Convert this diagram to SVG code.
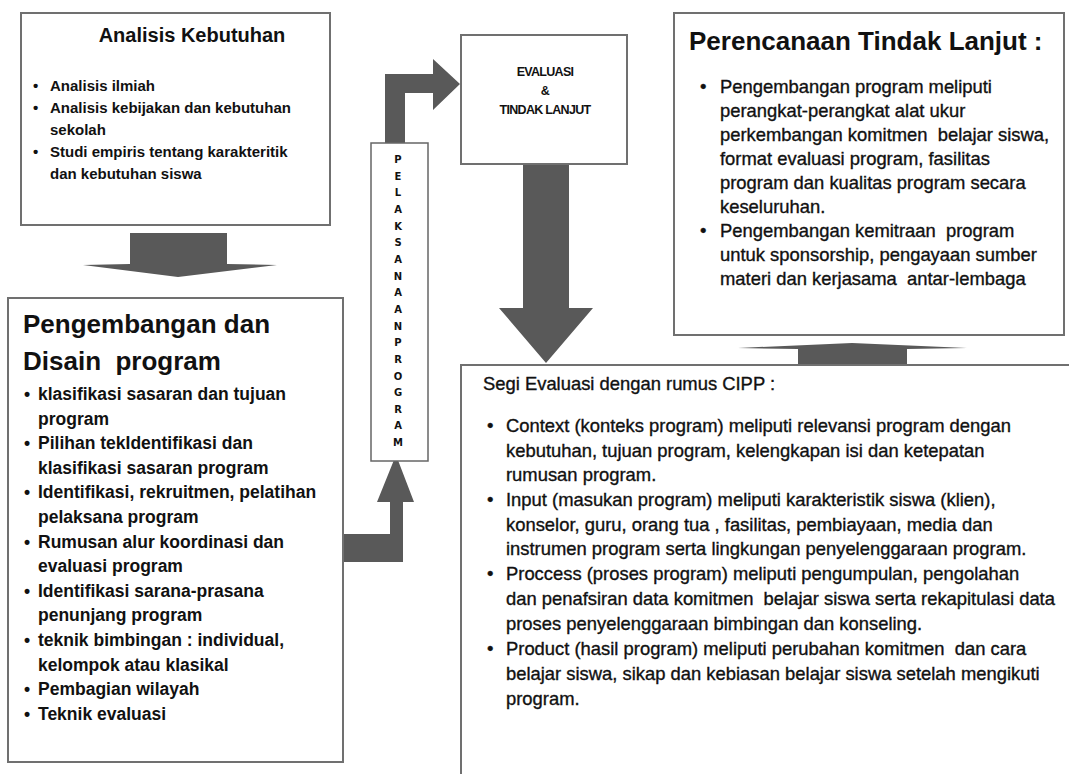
<svg xmlns="http://www.w3.org/2000/svg" width="1069" height="774" viewBox="0 0 1069 774">
<style>
.box{fill:#fff;stroke:#707070;stroke-width:2}
.arrow{fill:#595959}
.t{font-family:"Liberation Sans",Arial,sans-serif;fill:#111}
.b1{font-size:15px;font-weight:bold}
.b2{font-size:17.5px;font-weight:bold}
.r{font-size:18.4px;stroke:#111;stroke-width:0.35px}
.h{font-size:26px;font-weight:bold}
.v{font-family:"DejaVu Sans",sans-serif;font-size:10px;font-weight:bold;text-anchor:middle}
.e{font-size:12.5px;font-weight:bold;text-anchor:middle;letter-spacing:-0.7px}
</style>
<rect width="1069" height="774" fill="#fff"/>
<g id="connectors">
<polygon class="arrow" points="130,233 227,233 227,264 277,265 178,277 83,265 130,264"/>
<polygon class="arrow" points="343,534 390,534 390,502 377,502 396,455 414,502 403,502 403,562 343,562"/>
<polygon class="arrow" points="385,143 385,74 433,74 433,59 460,84 433,110 433,93 405,93 405,143"/>
<polygon class="arrow" points="523,164 569,164 569,308 593,308 546,363 499,308 523,308"/>
<polygon class="arrow" points="798,365 907,365 907,349 967,348 852,343 738,348 798,349"/>
</g>
<g id="analisis">
<rect class="box" x="21" y="13" width="309" height="212"/>
<text class="t" x="192" y="42" font-size="20" font-weight="bold" text-anchor="middle">Analisis Kebutuhan</text>
<g class="t b1">
<text x="33" y="90.5">•</text><text x="50" y="90.5">Analisis ilmiah</text>
<text x="33" y="112.5">•</text><text x="50" y="112.5">Analisis kebijakan dan kebutuhan</text>
<text x="50" y="134.5">sekolah</text>
<text x="33" y="156.5">•</text><text x="50" y="156.5">Studi empiris tentang karakteritik</text>
<text x="50" y="178.5">dan kebutuhan siswa</text>
</g>
</g>
<g id="pengembangan">
<rect class="box" x="8" y="298" width="335" height="464"/>
<text class="t h" x="23" y="333">Pengembangan dan</text>
<text class="t h" x="23" y="370" xml:space="preserve">Disain  program</text>
<g class="t b2">
<text x="24" y="400">•</text><text x="38" y="400">klasifikasi sasaran dan tujuan</text>
<text x="38" y="424.6">program</text>
<text x="24" y="449.2">•</text><text x="38" y="449.2">Pilihan tekIdentifikasi dan</text>
<text x="38" y="473.8">klasifikasi sasaran program</text>
<text x="24" y="498.4">•</text><text x="38" y="498.4">Identifikasi, rekruitmen, pelatihan</text>
<text x="38" y="523">pelaksana program</text>
<text x="24" y="547.6">•</text><text x="38" y="547.6">Rumusan alur koordinasi dan</text>
<text x="38" y="572.2">evaluasi program</text>
<text x="24" y="596.8">•</text><text x="38" y="596.8">Identifikasi sarana-prasana</text>
<text x="38" y="621.4">penunjang program</text>
<text x="24" y="646">•</text><text x="38" y="646">teknik bimbingan : individual,</text>
<text x="38" y="670.6">kelompok atau klasikal</text>
<text x="24" y="695.2">•</text><text x="38" y="695.2">Pembagian wilayah</text>
<text x="24" y="719.8">•</text><text x="38" y="719.8">Teknik evaluasi</text>
</g>
</g>
<g id="pelaksanaan">
<rect x="371" y="143" width="57" height="318" fill="#fff" stroke="#666" stroke-width="1.5"/>
<g class="t v">
<text x="398" y="163">P</text><text x="398" y="179.7">E</text><text x="398" y="196.3">L</text><text x="398" y="213">A</text><text x="398" y="229.6">K</text><text x="398" y="246.3">S</text><text x="398" y="262.9">A</text><text x="398" y="279.6">N</text><text x="398" y="296.2">A</text><text x="398" y="312.9">A</text><text x="398" y="329.5">N</text><text x="398" y="346.2">P</text><text x="398" y="362.8">R</text><text x="398" y="379.5">O</text><text x="398" y="396.1">G</text><text x="398" y="412.8">R</text><text x="398" y="429.4">A</text><text x="398" y="446">M</text>
</g>
</g>
<g id="evaluasi">
<rect class="box" x="461" y="35" width="166" height="129"/>
<text class="t e" x="545" y="76">EVALUASI</text>
<text class="t e" x="545" y="95">&amp;</text>
<text class="t e" x="545" y="114">TINDAK LANJUT</text>
</g>
<g id="perencanaan">
<rect class="box" x="674" y="13" width="390" height="322"/>
<text class="t h" x="689" y="50">Perencanaan Tindak Lanjut :</text>
<g class="t r">
<text x="700" y="93">•</text><text x="720" y="93">Pengembangan program meliputi</text>
<text x="720" y="117">perangkat-perangkat alat ukur</text>
<text x="720" y="141" xml:space="preserve">perkembangan komitmen  belajar siswa,</text>
<text x="720" y="164.5">format evaluasi program, fasilitas</text>
<text x="720" y="188.5">program dan kualitas program secara</text>
<text x="720" y="212.5">keseluruhan.</text>
<text x="700" y="237">•</text><text x="720" y="237" xml:space="preserve">Pengembangan kemitraan  program</text>
<text x="720" y="261">untuk sponsorship, pengayaan sumber</text>
<text x="720" y="284.5" xml:space="preserve">materi dan kerjasama  antar-lembaga</text>
</g>
</g>
<g id="cipp">
<rect class="box" x="461" y="365" width="640" height="440"/>
<g class="t r">
<text x="483" y="390">Segi Evaluasi dengan rumus CIPP :</text>
<text x="487" y="432">•</text><text x="506" y="432">Context (konteks program) meliputi relevansi program dengan</text>
<text x="506" y="456.5">kebutuhan, tujuan program, kelengkapan isi dan ketepatan</text>
<text x="506" y="481">rumusan program.</text>
<text x="487" y="506">•</text><text x="506" y="506">Input (masukan program) meliputi karakteristik siswa (klien),</text>
<text x="506" y="530.5">konselor, guru, orang tua , fasilitas, pembiayaan, media dan</text>
<text x="506" y="555">instrumen program serta lingkungan penyelenggaraan program.</text>
<text x="487" y="580">•</text><text x="506" y="580">Proccess (proses program) meliputi pengumpulan, pengolahan</text>
<text x="506" y="605" xml:space="preserve">dan penafsiran data komitmen  belajar siswa serta rekapitulasi data</text>
<text x="506" y="630">proses penyelenggaraan bimbingan dan konseling.</text>
<text x="487" y="655">•</text><text x="506" y="655" xml:space="preserve">Product (hasil program) meliputi perubahan komitmen  dan cara</text>
<text x="506" y="680">belajar siswa, sikap dan kebiasan belajar siswa setelah mengikuti</text>
<text x="506" y="704.5">program.</text>
</g>
</g>
</svg>
